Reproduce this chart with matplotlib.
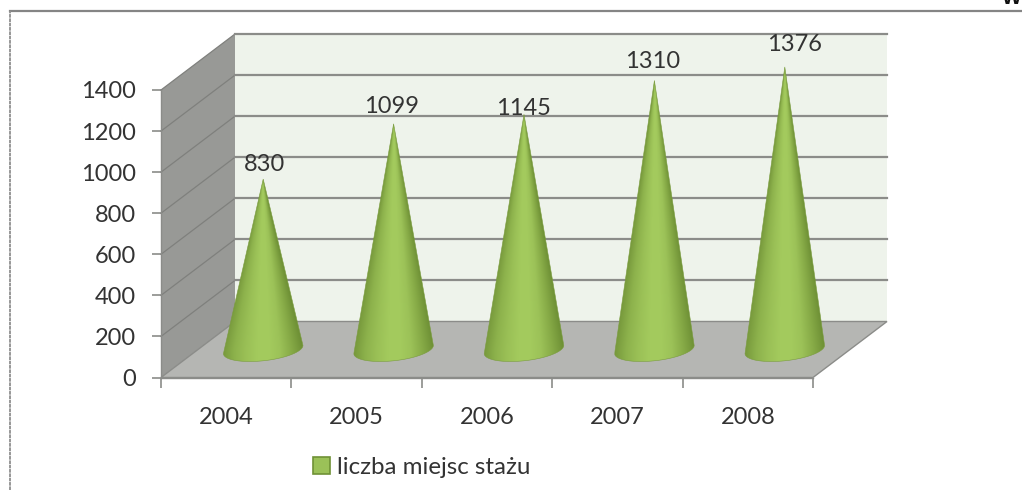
import matplotlib
matplotlib.use("Agg")
import matplotlib.pyplot as plt
import numpy as np
from matplotlib.colors import LinearSegmentedColormap
from matplotlib.lines import Line2D
from matplotlib.patches import Patch, Polygon

plt.rcParams["font.family"] = ["Lato", "DejaVu Sans"]

# === Data ===
YEARS = ["2004", "2005", "2006", "2007", "2008"]
PLACES = [830, 1099, 1145, 1310, 1376]
Y_TICKS = [0, 200, 400, 600, 800, 1000, 1200, 1400]
SERIES_NAME = "liczba miejsc stażu"

# label offsets from cone tip, in px
LABEL_DX = [1, -2, -1, -2, 10]
LABEL_DY = [15, 17, 6, 19, 22]

W, H = 1022, 490
AX_L, AX_R, AX_TOP, AX_BOT = 161, 813, 90, 377.5
DEPTH_X = 74 / ((AX_R - AX_L) / 5)
DEPTH_Y = 56 / ((AX_BOT - AX_TOP) / 1400)
CONE_RX = 0.305
CONE_RY = 55
CONE_TILT = 20

GRID = "#8b8c89"
TEXT = "#333333"
FONT = 17

fig = plt.figure(figsize=(W / 100, H / 100), dpi=100, facecolor="white")
ax = fig.add_axes([AX_L / W, 1 - AX_BOT / H, (AX_R - AX_L) / W, (AX_BOT - AX_TOP) / H])
ax.set_facecolor("none")
n = len(YEARS)

# walls and floor
ax.add_patch(Polygon([(DEPTH_X, DEPTH_Y), (n + DEPTH_X, DEPTH_Y), (n + DEPTH_X, 1400 + DEPTH_Y),
                      (DEPTH_X, 1400 + DEPTH_Y)], fc="#eef3eb", ec="none", clip_on=False, zorder=1))
ax.add_patch(Polygon([(0, 0), (DEPTH_X, DEPTH_Y), (DEPTH_X, 1400 + DEPTH_Y), (0, 1400)],
                     fc="#989996", ec="none", clip_on=False, zorder=1))
ax.add_patch(Polygon([(0, 0), (n, 0), (n + DEPTH_X, DEPTH_Y), (DEPTH_X, DEPTH_Y)],
                     fc="#b5b6b3", ec=GRID, lw=1.0, clip_on=False, zorder=1.5))
for v in Y_TICKS[1:]:
    ax.plot([0, DEPTH_X], [v, v + DEPTH_Y], color="#7f807d", lw=0.9, clip_on=False, zorder=2)
    ax.plot([DEPTH_X, n + DEPTH_X], [v + DEPTH_Y, v + DEPTH_Y], color=GRID, lw=1.6,
            clip_on=False, zorder=2)

# cones, shading follows the narrowing of the cone
shade = LinearSegmentedColormap.from_list(
    "cone", ["#77993c", "#8db24c", "#9ac056", "#a3ca5d", "#a4cb5e", "#9cc258", "#87ab47", "#6f9136"])
for i, val in enumerate(PLACES):
    cx = i + 0.5 + DEPTH_X / 2
    cy = DEPTH_Y / 2
    t = np.linspace(np.pi, 2 * np.pi, 60)
    arc_x = cx + CONE_RX * np.cos(t)
    arc_y = cy + CONE_RY * np.sin(t) + CONE_TILT * np.cos(t)
    tip = (cx, cy + val)
    outline = Polygon(np.vstack([[tip], np.column_stack([arc_x, arc_y])]), closed=True,
                      fc="none", ec="#7a9c3e", lw=0.4, clip_on=False, zorder=4, transform=ax.transData)
    ax.add_patch(outline)

    y_lo = cy - CONE_RY - CONE_TILT
    gx, gy = np.meshgrid(np.linspace(cx - CONE_RX, cx + CONE_RX, 200), np.linspace(y_lo, cy + val, 400))
    frac = np.clip(1 - (gy - cy) / val, 0.01, 1)
    u = np.clip((gx - cx) / (CONE_RX * frac), -1, 1)
    im = ax.imshow((u + 1) / 2, cmap=shade, vmin=0, vmax=1, aspect="auto", origin="lower",
                   interpolation="bilinear", zorder=3,
                   extent=[cx - CONE_RX, cx + CONE_RX, y_lo, cy + val])
    im.set_clip_box(fig.bbox)
    im.set_clip_path(outline)
    ax.annotate(str(val), xy=tip, xytext=(LABEL_DX[i] * 0.72, LABEL_DY[i] * 0.72),
                textcoords="offset points", ha="center", va="center",
                fontsize=FONT, color=TEXT, zorder=5, annotation_clip=False)

ax.set_xlim(0, n)
ax.set_ylim(0, 1400)

# axes
ax.set_yticks(Y_TICKS)
ax.set_xticks(range(n + 1), [""] * (n + 1))
ax.set_xticks(np.arange(n) + 0.5, YEARS, minor=True)
ax.tick_params(axis="y", length=6.5, width=1.2, color=GRID, labelcolor=TEXT, labelsize=FONT, pad=11.5)
ax.tick_params(axis="x", which="major", length=7, width=1.2, color=GRID)
ax.tick_params(axis="x", which="minor", length=0, labelcolor=TEXT, labelsize=FONT, pad=21)
for side in ["top", "right"]:
    ax.spines[side].set_visible(False)
for side in ["left", "bottom"]:
    ax.spines[side].set_color(GRID)
    ax.spines[side].set_linewidth(1.0)

# legend
fig.legend(handles=[Patch(fc="#9bc158", ec="#6f9136", lw=1.2, label=SERIES_NAME)],
           loc="center left", bbox_to_anchor=(313 / W, 1 - 467 / H), frameon=False,
           fontsize=17.4, labelcolor=TEXT, handlelength=0.7, handleheight=0.7, handletextpad=0.3,
           borderpad=0, borderaxespad=0)

# outer frame (cropped from a bigger page)
fig.add_artist(Line2D([9.5 / W, 1], [1 - 11 / H, 1 - 11 / H], color="#858585", lw=1.6))
fig.add_artist(Line2D([9.5 / W, 9.5 / W], [0, 1 - 11 / H], color="#8f8f8f", lw=1.3, ls=(0, (2, 0.4))))
fig.text(1002 / W, 1 - 4.5 / H, "W", fontsize=15, fontweight="bold", color="#111111",
         family="Liberation Sans", ha="left", va="baseline")

fig.savefig("out.png", dpi=100)
